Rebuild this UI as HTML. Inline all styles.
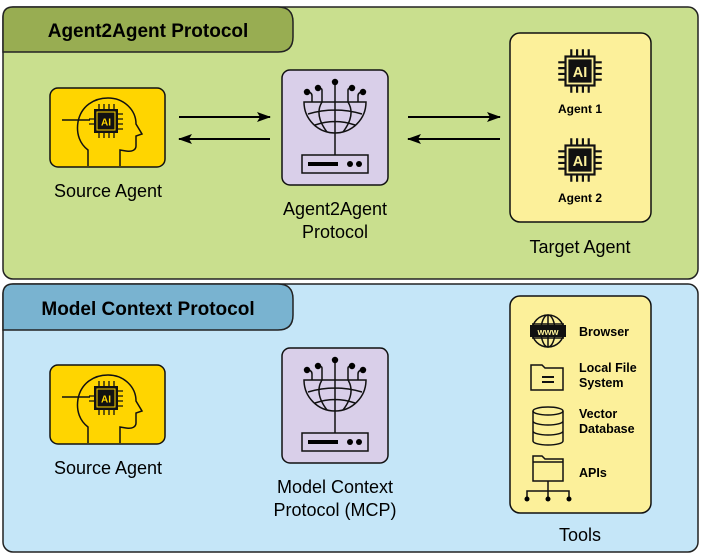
<!DOCTYPE html>
<html><head><style>body{margin:0;background:#fff}svg{display:block}text{font-family:"Liberation Sans",sans-serif}</style></head><body>
<svg width="705" height="558" viewBox="0 0 705 558" xmlns="http://www.w3.org/2000/svg">
<defs>
<marker id="ah" markerWidth="14" markerHeight="10" refX="13" refY="5" orient="auto" markerUnits="userSpaceOnUse"><path d="M0,0 L14,5 L0,10 L3,5Z" fill="#000"/></marker>
<g id="head">
<rect x="0" y="0" width="115" height="79" rx="8" fill="#ffd500" stroke="#111" stroke-width="1.5"/>
<path d="M38,78 V62 C30,56 26,46 28,34 C31,18 44,10 58,10 C74,10 86,22 86,36 L92,46 L86,48 V58 C86,62 82,64 76,63 L70,62 V78" fill="none" stroke="#111" stroke-width="1.5"/>
<rect x="44" y="21" width="24" height="24" fill="#111"/><rect x="47" y="24" width="18" height="18" fill="#111" stroke="#ffd500" stroke-width="1"/>
<text x="56" y="37.5" font-size="10" font-weight="bold" fill="#ffd500" text-anchor="middle">AI</text>
<path d="M49,21v-5M54,21v-5M59,21v-5M64,21v-5M49,45v5M54,45v5M59,45v5M64,45v5M68,26h5M68,31h5M68,36h5M68,41h5M44,31h-5M44,36h-5" stroke="#111" stroke-width="1.3"/>
<path d="M12,32H40" stroke="#111" stroke-width="1.5"/>
</g>
<g id="proto">
<rect x="0" y="0" width="106" height="115" rx="8" fill="#d9cfe9" stroke="#111" stroke-width="1.5"/>
<path d="M22,32 H84 A31,31 0 0 1 22,32Z" fill="none" stroke="#111" stroke-width="1.5"/>
<path d="M26,44 Q53,36 80,44 M33,55 Q53,48 73,55 M53,32V85 M53,12V32 M40,32 Q32,45 45,62 M66,32 Q74,45 61,62 M30,32 V26 Q30,22 25,22 M76,32 V26 Q76,22 81,22 M40,32 V20 Q40,18 36,18 M66,32 V20 Q66,18 70,18" fill="none" stroke="#111" stroke-width="1.5"/>
<circle cx="53" cy="12" r="3.2"/><circle cx="25" cy="22" r="3.2"/><circle cx="81" cy="22" r="3.2"/><circle cx="36" cy="18" r="3.2"/><circle cx="70" cy="18" r="3.2"/>
<rect x="20" y="85" width="66" height="18" fill="none" stroke="#111" stroke-width="1.5"/>
<rect x="26" y="92" width="30" height="4"/><circle cx="68" cy="94" r="3"/><circle cx="77" cy="94" r="3"/>
</g>
<g id="chip">
<rect x="-10" y="-10" width="20" height="20" fill="none" stroke="#111" stroke-width="1.5"/><rect x="-8" y="-8" width="16" height="16" fill="#111"/>
<text x="0" y="4" font-size="10" font-weight="bold" fill="#fcf09a" text-anchor="middle">AI</text>
<path d="M-6,-10v-5M-2,-10v-5M2,-10v-5M6,-10v-5M-6,10v5M-2,10v5M2,10v5M6,10v5M-10,-6h-5M-10,-2h-5M-10,2h-5M-10,6h-5M10,-6h5M10,-2h5M10,2h5M10,6h5" stroke="#111" stroke-width="1.5"/>
</g>
</defs>
<rect x="3" y="7" width="695" height="272" rx="10" fill="#c9df8e" stroke="#222" stroke-width="1.5"/>
<path d="M3,52 V17 Q3,7 13,7 H278 Q293,7 293,22 V37 Q293,52 278,52 Z" fill="#98ad52" stroke="#222" stroke-width="1.5"/>
<text x="148" y="37" font-size="19" font-weight="bold" text-anchor="middle">Agent2Agent Protocol</text>
<use href="#head" x="50" y="88"/>
<text x="108" y="197" font-size="18" text-anchor="middle">Source Agent</text>
<use href="#proto" x="282" y="70"/>
<text x="335" y="215" font-size="18" text-anchor="middle">Agent2Agent</text>
<text x="335" y="238" font-size="18" text-anchor="middle">Protocol</text>
<rect x="510" y="33" width="141" height="189" rx="10" fill="#fcf09a" stroke="#111" stroke-width="1.5"/>
<use href="#chip" transform="translate(580,71) scale(1.45)"/><text x="580" y="113" font-size="12" font-weight="bold" text-anchor="middle">Agent 1</text>
<use href="#chip" transform="translate(580,160) scale(1.45)"/><text x="580" y="202" font-size="12" font-weight="bold" text-anchor="middle">Agent 2</text>
<text x="580" y="253" font-size="18" text-anchor="middle">Target Agent</text>
<g stroke="#000" stroke-width="2" marker-end="url(#ah)">
<line x1="179" y1="117" x2="270" y2="117"/><line x1="270" y1="139" x2="179" y2="139"/>
<line x1="408" y1="117" x2="500" y2="117"/><line x1="500" y1="139" x2="408" y2="139"/>
<line x1="179" y1="394" x2="270" y2="394"/><line x1="270" y1="416" x2="179" y2="416"/>
<line x1="408" y1="394" x2="500" y2="394"/><line x1="500" y1="416" x2="408" y2="416"/>
</g>
<rect x="3" y="284" width="695" height="268" rx="10" fill="#c5e6f8" stroke="#222" stroke-width="1.5"/>
<path d="M3,330 V294 Q3,284 13,284 H278 Q293,284 293,299 V315 Q293,330 278,330 Z" fill="#79b3d0" stroke="#222" stroke-width="1.5"/>
<text x="148" y="315" font-size="19" font-weight="bold" text-anchor="middle">Model Context Protocol</text>
<use href="#head" x="50" y="365"/>
<text x="108" y="474" font-size="18" text-anchor="middle">Source Agent</text>
<use href="#proto" x="282" y="348"/>
<text x="335" y="493" font-size="18" text-anchor="middle">Model Context</text>
<text x="335" y="516" font-size="18" text-anchor="middle">Protocol (MCP)</text>
<rect x="510" y="296" width="141" height="217" rx="10" fill="#fcf09a" stroke="#111" stroke-width="1.5"/>
<g fill="none" stroke="#111" stroke-width="1.5">
<circle cx="548" cy="331" r="16"/><ellipse cx="548" cy="331" rx="7" ry="16"/><path d="M532,324H564M532,338H564M548,315V347"/>
<path d="M531,365h11l3,3h18v22h-32z"/><path d="M542,377h12M542,382h12" stroke-width="2"/>
<ellipse cx="548" cy="411" rx="15" ry="4"/><path d="M533,411v30a15,4 0 0 0 30,0v-30M533,421a15,4 0 0 0 30,0M533,431a15,4 0 0 0 30,0"/>
<path d="M533,456h9l3,3h18v22h-30z M533,462h30 M548,481v16 M527,497v-6h42v6"/>
</g>
<rect x="530" y="325" width="36" height="12" fill="#111"/><text x="548" y="335" font-size="9" font-weight="bold" fill="#fcf09a" text-anchor="middle">www</text>
<circle cx="527" cy="499" r="2.5"/><circle cx="548" cy="499" r="2.5"/><circle cx="569" cy="499" r="2.5"/>
<g font-size="12.5" font-weight="bold"><text x="579" y="336">Browser</text><text x="579" y="372">Local File</text><text x="579" y="387">System</text><text x="579" y="418">Vector</text><text x="579" y="433">Database</text><text x="579" y="477">APIs</text></g>
<text x="580" y="541" font-size="18" text-anchor="middle">Tools</text>
</svg>
</body></html>
